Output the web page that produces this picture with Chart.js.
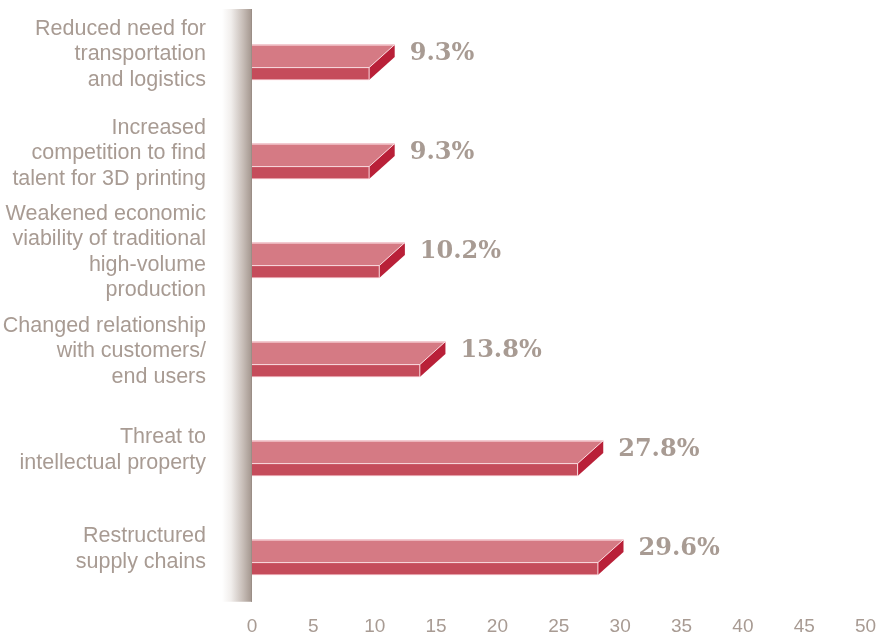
<!DOCTYPE html>
<html>
<head>
<meta charset="utf-8">
<script src="https://cdn.jsdelivr.net/npm/chart.js@4/dist/chart.umd.min.js"></script>
<style>
  html, body { margin: 0; padding: 0; background: #ffffff; }
  canvas { display: block; }
</style>
</head>
<body>
<canvas id="chart" width="879" height="634"></canvas>
<script>
// Impacts of 3D printing, share of respondents (%)
const categories = [
  ['Reduced need for', 'transportation', 'and logistics'],
  ['Increased', 'competition to find', 'talent for 3D printing'],
  ['Weakened economic', 'viability of traditional', 'high-volume', 'production'],
  ['Changed relationship', 'with customers/', 'end users'],
  ['Threat to', 'intellectual property'],
  ['Restructured', 'supply chains']
];
const shares = [9.3, 9.3, 10.2, 13.8, 27.8, 29.6];
const axisMin = 0;
const axisMax = 50;
const axisStep = 5;

// Look of the 3D bars
const TEXT_GRAY = '#a89b93';
const TOP_FACE = '#d57a84';
const FRONT_FACE = '#c54c5b';
const SIDE_FACE = '#b92038';
const EDGE = 'rgba(255, 232, 235, 0.9)';
const DEPTH_X = 25.6;     // oblique depth, horizontal
const DEPTH_Y = 23;       // oblique depth, vertical
const FRONT_H = 12.3;     // front face thickness
const FRONT_SHIFT = 19.5; // front face sits below the category centre
const LABEL_GAP = 15;

function poly(ctx, pts, fill) {
  ctx.beginPath();
  ctx.moveTo(pts[0][0], pts[0][1]);
  for (let i = 1; i < pts.length; i++) ctx.lineTo(pts[i][0], pts[i][1]);
  ctx.closePath();
  ctx.fillStyle = fill;
  ctx.fill();
}

function noOverflowPadding(scale) {
  scale.paddingTop = 0;
  scale.paddingBottom = 0;
  scale.paddingLeft = 0;
  scale.paddingRight = 0;
}

const wallAndBars = {
  id: 'wallAndBars',
  beforeDatasetsDraw(chart) {
    const { ctx, chartArea } = chart;
    const right = chartArea.left;
    const left = right - 30;
    const top = chartArea.top + 4.25;
    const bottom = chartArea.bottom + 3;
    const g = ctx.createLinearGradient(left, 0, right, 0);
    g.addColorStop(0, '#ffffff');
    g.addColorStop(0.3, '#f1eeec');
    g.addColorStop(0.7, '#c7bdb7');
    g.addColorStop(1, '#a2958d');
    ctx.save();
    ctx.fillStyle = g;
    ctx.fillRect(left, top, right - left, bottom - top);
    ctx.fillStyle = '#9b8e86';
    ctx.fillRect(right - 1, top, 1, bottom - top);
    ctx.restore();
  },
  afterDatasetsDraw(chart) {
    const { ctx, chartArea } = chart;
    const meta = chart.getDatasetMeta(0);
    const left = chartArea.left;
    ctx.save();
    meta.data.forEach((bar, i) => {
      const xe = bar.x;
      const yc = bar.y + FRONT_SHIFT;
      const ft = yc - FRONT_H / 2;
      const fb = yc + FRONT_H / 2;
      const bt = ft - DEPTH_Y;
      const xb = xe + DEPTH_X;

      poly(ctx, [[left, bt], [xb, bt], [xe, ft], [left, ft]], TOP_FACE);
      poly(ctx, [[left, ft], [xe, ft], [xe, fb], [left, fb]], FRONT_FACE);
      poly(ctx, [[xe, ft], [xb, bt], [xb, fb - DEPTH_Y], [xe, fb]], SIDE_FACE);

      ctx.strokeStyle = EDGE;
      ctx.lineWidth = 1;
      ctx.beginPath();
      ctx.moveTo(left, bt + 0.5); ctx.lineTo(xb, bt + 0.5);
      ctx.moveTo(left, ft); ctx.lineTo(xe, ft); ctx.lineTo(xb, bt);
      ctx.moveTo(xe, ft); ctx.lineTo(xe, fb); ctx.lineTo(left, fb);
      ctx.stroke();

      ctx.fillStyle = TEXT_GRAY;
      ctx.font = 'bold 24px "DejaVu Serif", serif';
      ctx.textAlign = 'left';
      ctx.textBaseline = 'middle';
      ctx.fillText(shares[i].toFixed(1) + '%', xb + LABEL_GAP, bar.y);
    });
    ctx.restore();
  }
};

new Chart(document.getElementById('chart'), {
  type: 'bar',
  data: {
    labels: categories,
    datasets: [{
      data: shares,
      xAxisID: 'depth',
      yAxisID: 'y',
      backgroundColor: 'rgba(0,0,0,0)',
      borderWidth: 0,
      barThickness: FRONT_H
    }]
  },
  options: {
    indexAxis: 'y',
    responsive: false,
    animation: false,
    events: [],
    layout: { padding: { top: 4.75, right: 13.4, left: 0, bottom: 0 } },
    plugins: { legend: { display: false }, tooltip: { enabled: false } },
    scales: {
      x: {
        type: 'linear',
        position: 'bottom',
        min: axisMin,
        max: axisMax,
        grid: { display: false, drawTicks: false },
        border: { display: false },
        ticks: {
          stepSize: axisStep,
          autoSkip: false,
          maxRotation: 0,
          color: TEXT_GRAY,
          padding: 17,
          font: { family: '"Liberation Sans", Arial, sans-serif', size: 19 }
        },
        afterFit(scale) { scale.height = 35.25; noOverflowPadding(scale); }
      },
      // bars sit deeper in the scene, so their value scale is slightly foreshortened
      depth: {
        type: 'linear',
        position: 'bottom',
        display: false,
        min: -1.09,
        max: 53.35
      },
      y: {
        type: 'category',
        position: 'left',
        grid: { display: false, drawTicks: false },
        border: { display: false },
        ticks: {
          autoSkip: false,
          color: TEXT_GRAY,
          padding: 46,
          font: { family: '"Liberation Sans", Arial, sans-serif', size: 21.5, lineHeight: 1.186 }
        },
        afterFit(scale) { scale.width = 252; noOverflowPadding(scale); }
      }
    }
  },
  plugins: [wallAndBars]
});
</script>
</body>
</html>
